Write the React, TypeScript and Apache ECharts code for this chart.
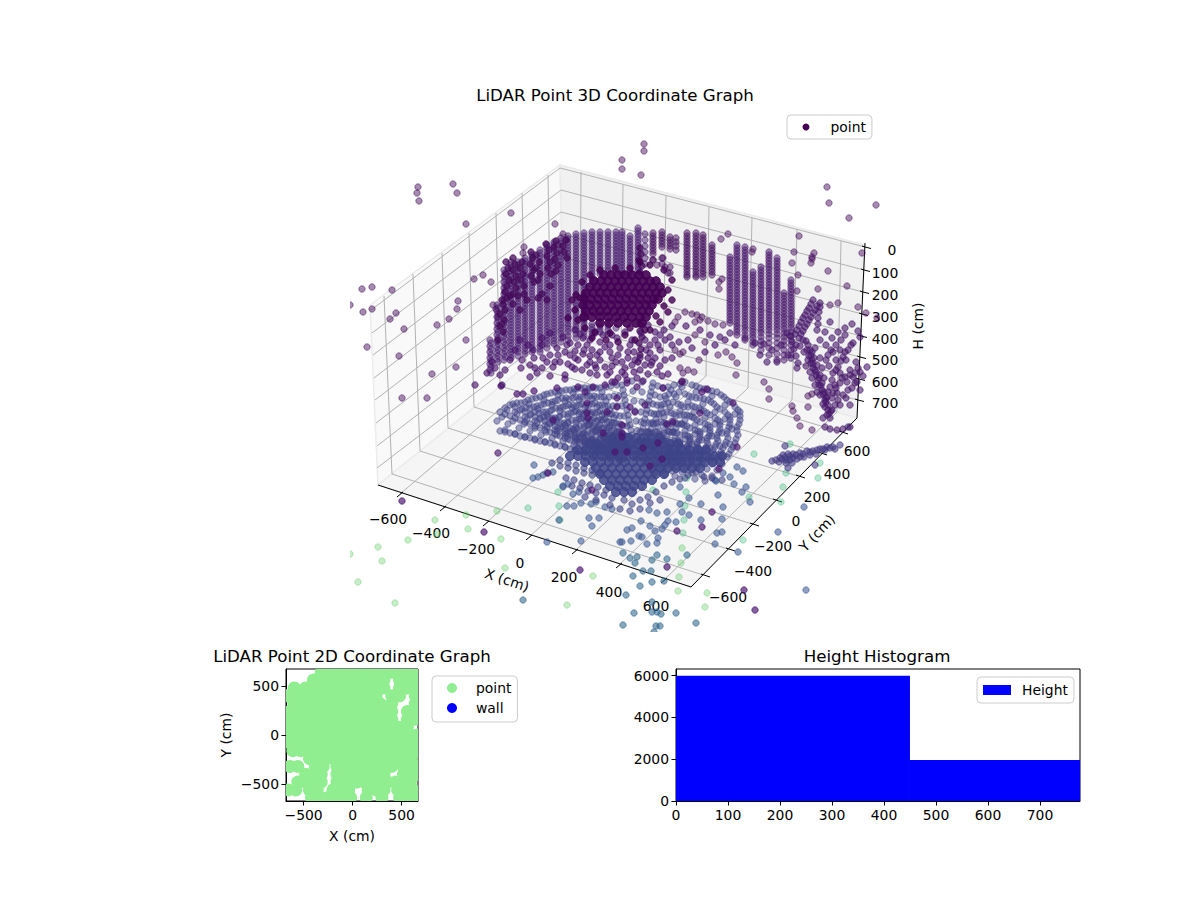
import { useEffect, useRef } from "react";
import * as echarts from "echarts";

const FONT = "DejaVu Sans";

// ---- 3D frame, in view-plane coordinates ----
const paneLeft = [[560, 165], [564, 335], [378, 485], [370, 305]];
const paneRight = [[560, 165], [865, 245], [857, 418], [564, 335]];
const paneFloor = [[564, 335], [857, 418], [691, 587], [378, 485]];
const backZ = [[560, 168], [561, 190], [561, 212], [562, 234], [562, 257], [563, 279], [563, 302], [564, 325]];
const leftZ = [[371, 310], [372, 333], [373, 355], [374, 378], [375, 400], [376, 423], [377, 446], [377, 468]];
const rightZ = [[865, 247], [864, 270], [863, 292], [862, 314], [861, 336], [860, 357], [859, 379], [858, 400]];
const leftTops = [[384, 296], [413, 274], [442, 253], [469, 233], [496, 213], [522, 193], [548, 175]];
const leftBottoms = [[392, 474], [420, 451], [448, 428], [474, 407], [500, 386], [526, 365], [551, 345]];
const rightTops = [[581, 172], [623, 185], [666, 196], [709, 207], [752, 218], [797, 229], [841, 241]];
const rightBottoms = [[580, 341], [621, 352], [663, 364], [706, 376], [748, 388], [792, 400], [837, 412]];
const xTickPoints = [[400, 494], [443, 508], [486, 523], [529, 537], [575, 551], [619, 565], [664, 580]];
const yTickPoints = [[703, 575], [728, 549], [752, 524], [775, 500], [798, 476], [820, 453], [841, 432]];
const xTickLabels = ["−600", "−400", "−200", "0", "200", "400", "600"];
const yTickLabels = ["−600", "−400", "−200", "0", "200", "400", "600"];
const zTickLabels = ["0", "100", "200", "300", "400", "500", "600", "700"];
const xLabelPos = [[388, 519], [431, 533], [476, 549], [520, 563], [564, 577], [609, 592], [656, 606]];
const yLabelPos = [[728, 597], [753, 571], [773, 546], [796, 521], [817, 497], [837, 474], [857, 451]];

// ---- 3D scatter ----
const wallLeftColumns: [number, number[]][] = [
  [490, [340, 346, 352, 358, 364, 370]],
  [497, [305, 311, 317, 323, 329, 335, 341, 347, 353, 359]],
  [504, [270, 276, 282, 288, 294, 300, 306, 312, 318, 324, 330, 336, 342, 348, 354, 360]],
  [511, [262, 268, 274, 280, 286, 292, 298, 304, 310, 316, 322, 328, 334, 340, 346, 352, 358]],
  [518, [262, 268, 274, 280, 286, 292, 298, 304, 310, 316, 322, 328, 334, 340, 346, 352, 356]],
  [525, [258, 264, 270, 276, 282, 288, 294, 300, 306, 312, 318, 324, 330, 336, 342, 348, 354]],
  [532, [255, 261, 267, 273, 279, 285, 291, 297, 303, 309, 315, 321, 327, 333, 339, 345, 352]],
  [540, [250, 256, 262, 268, 274, 280, 286, 292, 298, 304, 310, 316, 322, 328, 334, 340, 346, 352]],
  [547, [245, 251, 257, 263, 269, 275, 281, 287, 293, 299, 305, 311, 317, 323, 329, 335, 341, 348]],
  [554, [242, 248, 254, 260, 266, 272, 278, 284, 290, 296, 302, 308, 314, 320, 326, 332, 338, 344]],
  [561, [238, 244, 250, 256, 262, 268, 274, 280, 286, 292, 298, 304, 310, 316, 322, 328, 334, 342]],
  [568, [236, 242, 248, 254, 260, 266, 272, 278, 284, 290, 296, 302, 308, 314, 320, 326, 332, 340]],
  [576, [234, 240, 246, 252, 258, 264, 270, 276, 282, 288, 294, 300, 306, 312, 318, 324, 330, 338]],
  [584, [233, 239, 245, 251, 257, 263, 269, 275, 281, 287, 293, 299, 305, 311, 317, 323, 329, 336]],
  [592, [232, 238, 244, 250, 256, 262, 268, 274, 280, 324, 330, 336]],
  [600, [232, 238, 244, 250, 256, 262, 268, 274, 326, 332]],
  [608, [232, 238, 244, 250, 256, 262, 268, 326, 334]],
  [616, [232, 238, 244, 250, 256, 262, 268, 328]],
  [622, [232, 238, 244, 250, 256, 262, 268, 274]],
  [630, [236, 242, 248, 254, 260, 266, 272]],
  [638, [228, 234, 240, 246, 252, 258, 264, 270]],
  [645, [234, 240, 246, 252, 258, 264]],
];
const wallLeftColumnsB: [number, number[]][] = [
  [491, [343, 349, 355, 361, 367, 373]],
  [498, [308, 314, 320, 326, 332, 338, 344, 350, 356, 362]],
  [505, [273, 279, 285, 291, 297, 303, 309, 315, 321, 327, 333, 339, 345, 351, 357]],
  [511, [265, 271, 277, 283, 289, 295, 301, 307, 313, 319, 325, 331, 337, 343, 349, 355]],
  [518, [265, 271, 277, 283, 289, 295, 301, 307, 313, 319, 325, 331, 337, 343, 349]],
  [525, [261, 267, 273, 279, 285, 291, 297, 303, 309, 315, 321, 327, 333, 339, 345, 351]],
  [532, [258, 264, 270, 276, 282, 288, 294, 300, 306, 312, 318, 324, 330, 336, 342, 348]],
  [540, [253, 259, 265, 271, 277, 283, 289, 295, 301, 307, 313, 319, 325, 331, 337, 343, 349]],
  [547, [248, 254, 260, 266, 272, 278, 284, 290, 296, 302, 308, 314, 320, 326, 332, 338, 344]],
  [554, [245, 251, 257, 263, 269, 275, 281, 287, 293, 299, 305, 311, 317, 323, 329, 335, 341]],
  [561, [241, 247, 253, 259, 265, 271, 277, 283, 289, 295, 301, 307, 313, 319, 325, 331, 338]],
  [568, [239, 245, 251, 257, 263, 269, 275, 281, 287, 293, 299, 305, 311, 317, 323, 329, 336]],
  [576, [237, 243, 249, 255, 261, 267, 273, 279, 285, 291, 297, 303, 309, 315, 321, 327, 334]],
  [584, [236, 242, 248, 254, 260, 266, 272, 278, 284, 290, 296, 302, 308, 314, 320, 326, 332]],
  [592, [235, 241, 247, 253, 259, 265, 271, 277, 327, 333]],
  [600, [235, 241, 247, 253, 259, 265, 271, 329]],
  [608, [235, 241, 247, 253, 259, 265, 271, 330]],
  [616, [235, 241, 247, 253, 259, 265, 271]],
  [622, [235, 241, 247, 253, 259, 265, 271]],
  [630, [239, 245, 251, 257, 263, 269]],
  [638, [231, 237, 243, 249, 255, 261, 267]],
];
const wallTopBand = [
  506, 262, 508, 268, 506, 274, 509, 280, 507, 286, 505, 292, 507, 298, 503, 304, 505, 310, 513, 258, 515, 264, 513, 270, 516, 276, 514, 282, 516, 288, 513, 294,
  522, 262, 520, 268, 523, 274, 521, 280, 524, 286, 531, 252, 533, 258, 530, 264, 534, 270, 531, 276, 534, 282, 536, 255, 539, 262, 536, 268, 540, 274, 538, 280,
  546, 244, 549, 250, 547, 256, 550, 262, 548, 268, 551, 274, 556, 241, 554, 247, 557, 253, 555, 259, 558, 265, 556, 271, 566, 240, 563, 246, 564, 252, 567, 258,
  504, 320, 500, 326, 503, 332, 498, 340, 502, 300, 500, 314, 510, 296, 513, 304, 518, 296, 524, 294, 527, 300, 542, 294, 547, 300, 550, 286, 538, 298, 520, 310,
  640, 248, 641, 254, 639, 260, 642, 266, 640, 272, 641, 325, 640, 331, 642, 337, 639, 343, 641, 349, 640, 355, 638, 362,
];
const wallUpperColumns: [number, number[]][] = [
  [653, [233, 236, 239, 242, 245, 248, 251, 254, 260]],
  [662, [232, 235, 238, 241, 244, 247, 258, 264]],
  [670, [237, 240, 243, 246, 249, 267, 273]],
  [676, [238, 242, 246, 250]],
  [687, [233, 236, 239, 242, 245, 248, 251, 254, 257, 260, 263, 266, 269, 272, 275, 277]],
  [696, [233, 236, 239, 242, 245, 248, 251, 254, 257, 260, 263, 266, 269, 272, 275, 277]],
  [703, [235, 238, 241, 244, 247, 250, 253, 256, 259, 262, 265, 268, 271, 274, 277]],
  [712, [245, 248, 251, 254, 257, 260, 263, 266, 269, 272, 275]],
];
const wallRightColumns: [number, number[]][] = [
  [730, [257, 260, 263, 266, 269, 272, 275, 278, 281, 284, 287, 290, 293, 296, 299, 302, 305, 308, 311, 314, 317, 320, 323]],
  [737, [245, 248, 251, 254, 257, 260, 263, 266, 269, 272, 275, 278, 281, 284, 287, 290, 293, 296, 299, 302, 305, 308, 311, 314, 317, 320, 323, 326, 329, 332, 335]],
  [745, [247, 250, 253, 256, 259, 262, 265, 268, 271, 274, 277, 280, 283, 286, 289, 292, 295, 298, 301, 304, 307, 310, 313, 316, 319, 322, 325, 328, 331, 335, 340]],
  [753, [272, 275, 278, 281, 284, 287, 290, 293, 296, 299, 302, 305, 308, 311, 314, 317, 320, 323, 326, 329, 332, 335, 338, 342, 345]],
  [761, [267, 270, 273, 276, 279, 282, 285, 288, 291, 294, 297, 300, 303, 306, 309, 312, 315, 318, 321, 324, 327, 330, 333, 337, 341, 345, 350]],
  [769, [252, 255, 258, 261, 264, 267, 270, 273, 276, 279, 282, 285, 288, 291, 294, 297, 300, 303, 306, 309, 312, 315, 318, 321, 324, 327, 330, 334, 338, 343, 348, 355]],
  [777, [258, 261, 264, 267, 270, 273, 276, 279, 282, 285, 288, 291, 294, 297, 300, 303, 306, 309, 312, 315, 318, 321, 324, 327, 330, 334, 338, 343, 348, 354, 360]],
  [784, [293, 296, 299, 302, 305, 308, 311, 314, 317, 320, 323, 326, 329, 333, 337, 341, 345, 350, 355, 360]],
  [791, [280, 283, 286, 289, 292, 295, 298, 301, 304, 307, 310, 313, 316, 319, 322, 325, 328, 332, 336, 340, 345, 350, 355, 358]],
];
const wallRightStrands = [
  820, 303, 815, 310, 811, 317, 807, 324, 803, 331, 799, 338, 813, 300, 809, 308, 805, 315, 801, 322, 797, 330, 820, 307, 818, 318, 817, 330,
  817, 306, 813, 313, 809, 320, 805, 327, 801, 334, 811, 304, 807, 311, 803, 318, 799, 326, 795, 334, 819, 312, 818, 324,
  797, 368, 798, 363, 796, 356, 794, 349, 792, 342, 790, 336, 787, 333, 860, 337, 853, 343, 848, 350, 843, 357, 838, 367, 833, 373, 830, 387,
  827, 397, 825, 407, 823, 418, 810, 350, 812, 360, 815, 370, 818, 380, 822, 390, 825, 400, 828, 410, 830, 418, 807, 350, 809, 356, 811, 363,
  813, 368, 816, 375, 819, 385, 820, 395, 823, 404, 840, 373, 847, 382, 853, 377, 860, 372, 867, 367, 837, 393, 832, 398, 860, 390, 850, 405,
  840, 405, 833, 352, 828, 355, 820, 358, 850, 427, 843, 429, 837, 430, 830, 429, 825, 427, 835, 385, 842, 378, 850, 370, 856, 362, 846, 360,
  840, 350, 832, 338, 838, 332, 845, 328, 852, 324, 858, 331, 826, 345, 820, 340, 815, 348, 830, 322, 825, 332, 835, 405, 846, 398, 855, 383,
  811, 355, 813, 364, 816, 372, 819, 378, 821, 386, 823, 394, 826, 402, 829, 414, 808, 345, 806, 341, 812, 352, 814, 358, 817, 365, 820, 375,
  822, 383, 824, 392, 826, 398, 828, 405, 831, 411, 833, 393, 836, 388, 840, 383, 845, 377, 850, 375, 855, 373, 858, 368, 851, 345, 845, 352,
  841, 361, 836, 370, 832, 380, 828, 392, 845, 335, 841, 340, 836, 345, 831, 350, 826, 360, 822, 368, 803, 340, 800, 346, 804, 352, 808, 360,
  806, 366, 810, 372, 812, 378, 815, 385, 817, 392, 832, 410, 827, 415, 838, 400, 843, 395, 848, 390, 852, 388, 857, 382, 863, 376, 836, 360,
  829, 366, 824, 378, 720, 337, 730, 333, 745, 338, 755, 343, 760, 355, 767, 362, 777, 362, 788, 355, 764, 344, 772, 350, 781, 345, 796, 345,
];
const wallScatter = [
  367, 347, 399, 356, 432, 374, 456, 367, 466, 340, 402, 398, 427, 398,
  418, 187, 417, 193, 419, 201, 453, 184, 457, 193, 511, 213, 466, 224, 555, 224, 563, 234, 362, 289, 372, 287, 392, 290, 363, 312, 372, 309,
  396, 313, 390, 319, 404, 329, 437, 325, 449, 319, 457, 309, 458, 301, 474, 279, 483, 275, 491, 282, 493, 305, 496, 309, 498, 317, 502, 324,
  524, 247, 523, 253, 558, 245, 566, 240, 350, 305, 644, 144, 644, 151, 622, 160, 622, 169, 641, 175, 827, 187, 829, 203, 876, 205, 849, 218,
  728, 234, 721, 239, 799, 236, 794, 252, 814, 253, 812, 257, 812, 259, 811, 263, 792, 263, 753, 249, 752, 252, 828, 271, 847, 286, 798, 275,
  818, 289, 797, 291, 862, 253, 838, 303, 830, 305, 858, 307, 866, 313, 877, 318, 719, 282, 719, 289, 722, 279, 685, 312, 678, 317, 675, 322,
  692, 314, 697, 315, 702, 317, 695, 322, 700, 320, 708, 321, 715, 324, 723, 325, 663, 258, 665, 267, 668, 273, 653, 260, 657, 265,
  695, 335, 705, 342, 718, 355, 726, 352, 732, 357, 737, 363, 736, 375, 699, 360, 683, 352, 680, 354, 675, 350, 680, 368, 688, 370, 694, 372,
  683, 373, 682, 381, 764, 382, 769, 389, 769, 399, 792, 406, 793, 411, 797, 418, 800, 426, 812, 430, 808, 407, 812, 394, 808, 396,
];
const wallMidBand = [
  520, 340, 542, 338, 550, 333, 563, 337, 570, 343, 583, 338, 595, 333, 603, 335, 617, 338, 587, 345, 605, 347, 597, 355, 583, 354, 575, 351,
  567, 345, 557, 348, 550, 355, 543, 358, 534, 358, 530, 365, 555, 362, 560, 362, 553, 367, 542, 368, 521, 368, 537, 373, 550, 376, 530, 377,
  565, 375, 565, 379, 572, 367, 575, 369, 587, 365, 595, 365, 605, 367, 607, 375, 612, 382, 618, 378, 597, 375, 590, 373, 502, 385, 495, 368,
  487, 373, 492, 362, 475, 385, 498, 453, 668, 374, 662, 376, 657, 372, 651, 365, 658, 345, 650, 353, 648, 358, 670, 337, 679, 342,
  632, 340, 641, 333, 628, 352, 640, 358, 622, 362, 634, 372, 612, 358, 655, 332, 664, 330, 648, 325, 672, 326, 686, 326, 660, 350, 643, 381, 625, 375,
  575, 330, 580, 334, 590, 340, 600, 342, 610, 345, 620, 348, 630, 345, 645, 340, 650, 345, 612, 335, 625, 332, 660, 335, 655, 340, 665, 340,
  570, 355, 578, 360, 590, 356, 600, 360, 612, 366, 625, 368, 635, 360, 645, 365, 655, 358, 665, 360, 672, 345, 672, 358, 688, 340, 692, 348,
  542, 345, 533, 350, 528, 345, 515, 350, 510, 360, 505, 370, 500, 375, 522, 360, 700, 330, 710, 335, 715, 345, 705, 352, 725, 340, 735, 345,
  627, 380, 637, 378, 622, 372, 578, 345, 584, 350, 592, 350, 600, 352, 610, 352, 618, 355, 628, 358, 634, 352, 646, 350, 652, 362, 660, 366,
  568, 364, 582, 370, 596, 368, 610, 372, 616, 362, 632, 365, 640, 370, 648, 374, 535, 368, 547, 362, 558, 355, 565, 352, 575, 358, 590, 362,
];
const fanOverlay = [
  578, 387, 585, 392, 593, 387, 605, 385, 615, 382, 627, 383, 637, 387, 663, 388, 682, 382, 617, 398, 587, 403, 617, 407, 630, 407, 645, 405, 607, 412,
  635, 412, 587, 413, 588, 418, 553, 420, 622, 425, 667, 424, 673, 422, 700, 413, 733, 403, 707, 389, 702, 392, 603, 433, 622, 433, 622, 437, 658, 443,
  643, 448, 615, 452, 627, 452, 662, 459, 650, 466, 719, 469, 737, 447, 548, 473, 592, 490, 501, 386, 517, 394, 523, 394, 534, 391, 557, 388,
  402, 501, 484, 532, 580, 570, 712, 512, 702, 527, 677, 531, 667, 567, 744, 590, 755, 610,
];
const wallBlobRows: [number, number[]][] = [
  [275, [604, 611, 618, 625, 632, 639, 646]],
  [281, [594, 601, 608, 615, 622, 629, 636, 643, 650, 656]],
  [287, [590, 597, 604, 611, 618, 625, 632, 639, 646, 653, 660]],
  [293, [586, 593, 600, 607, 614, 621, 628, 635, 642, 649, 656, 662]],
  [299, [584, 591, 598, 605, 612, 619, 626, 633, 640, 647, 654, 658]],
  [305, [583, 590, 597, 604, 611, 618, 625, 632, 639, 646, 652]],
  [311, [586, 593, 600, 607, 614, 621, 628, 635, 642, 649]],
  [317, [584, 592, 600, 608, 616, 624, 632, 640, 646]],
  [323, [600, 609, 618, 627, 636, 642]],
];
const blobEdge = [
  575, 310, 572, 300, 578, 320, 585, 328, 595, 332, 610, 333, 625, 335, 635, 340, 650, 330, 660, 322, 668, 312, 672, 300, 668, 290, 672, 280, 664, 270, 650, 265,
  640, 262, 630, 268, 615, 268, 600, 270, 590, 275, 582, 282, 576, 295, 580, 298, 568, 318, 592, 338, 606, 340, 618, 342, 630, 328, 645, 330, 656, 316, 664, 306,
];
const floorRays: number[][] = [
  [500, 431, 510, 433, 520, 436, 530, 438, 540, 441, 550, 443, 560, 446, 570, 449, 580, 451, 590, 454, 600, 456, 610, 459, 620, 461],
  [497, 421, 508, 424, 519, 428, 530, 431, 541, 435, 552, 438, 563, 441, 574, 445, 585, 448, 596, 451, 607, 455, 618, 458],
  [500, 412, 510, 416, 520, 420, 530, 424, 540, 428, 550, 432, 560, 436, 570, 440, 580, 444, 590, 447, 600, 451, 610, 455, 620, 459],
  [505, 408, 515, 412, 525, 417, 535, 421, 545, 425, 555, 430, 565, 434, 575, 438, 585, 442, 595, 446, 605, 451, 615, 455],
  [510, 405, 520, 410, 530, 415, 540, 419, 550, 424, 560, 429, 570, 434, 580, 439, 590, 443, 600, 448, 610, 453, 620, 458],
  [517, 403, 526, 408, 535, 412, 544, 417, 553, 422, 562, 427, 571, 432, 580, 437, 589, 441, 598, 446, 607, 451, 616, 456],
  [525, 402, 534, 407, 543, 412, 552, 418, 561, 423, 570, 428, 579, 433, 588, 438, 597, 443, 606, 448, 615, 454, 624, 459],
  [532, 399, 541, 405, 550, 411, 559, 417, 568, 423, 577, 429, 586, 435, 595, 441, 604, 446, 613, 452],
  [540, 397, 548, 403, 556, 408, 564, 414, 572, 420, 580, 426, 588, 431, 596, 437, 604, 443, 612, 449, 620, 454],
  [547, 394, 555, 401, 563, 407, 571, 413, 579, 419, 587, 425, 595, 431, 603, 437, 611, 443, 619, 449],
  [555, 392, 562, 398, 569, 405, 576, 411, 583, 418, 590, 424, 597, 430, 604, 437, 611, 443, 618, 450, 625, 456],
  [562, 391, 569, 399, 576, 406, 583, 414, 590, 421, 597, 428, 604, 435, 611, 442, 618, 450],
  [570, 390, 576, 397, 582, 404, 588, 411, 594, 418, 600, 425, 606, 432, 612, 439, 618, 445, 624, 452],
  [577, 389, 583, 397, 589, 405, 595, 413, 601, 420, 607, 428, 613, 436, 619, 444, 625, 452],
  [585, 388, 590, 396, 595, 403, 600, 411, 605, 419, 610, 426, 615, 434, 620, 442, 625, 450],
  [592, 388, 597, 397, 602, 405, 607, 414, 612, 423, 617, 432, 622, 440, 627, 449],
  [600, 388, 604, 397, 608, 406, 612, 414, 616, 423, 620, 432, 624, 441, 628, 450],
  [611, 386, 614, 396, 617, 406, 620, 416, 623, 426, 626, 436, 629, 446],
  [622, 385, 624, 395, 626, 405, 628, 415, 630, 425, 632, 435, 634, 445, 635, 455],
  [632, 381, 633, 391, 634, 401, 635, 411, 636, 421, 637, 431, 637, 441, 637, 451],
  [653, 383, 651, 392, 649, 401, 647, 410, 645, 419, 643, 428, 641, 437, 639, 446, 637, 455],
  [663, 388, 660, 397, 657, 405, 654, 414, 651, 423, 648, 432, 645, 441, 642, 450, 639, 458],
  [674, 385, 669, 394, 664, 404, 659, 414, 654, 424, 649, 434, 644, 444],
  [685, 382, 679, 392, 673, 402, 667, 412, 661, 422, 655, 432, 649, 442, 643, 452],
  [692, 385, 685, 394, 678, 404, 671, 413, 664, 423, 657, 432, 650, 442, 643, 452],
  [700, 388, 692, 397, 684, 407, 676, 416, 668, 426, 660, 435, 652, 445, 644, 454],
  [708, 390, 700, 398, 692, 406, 684, 415, 676, 423, 668, 431, 660, 440, 652, 448],
  [717, 392, 708, 400, 699, 408, 690, 416, 681, 424, 672, 432, 663, 440, 654, 448, 645, 456],
  [724, 397, 714, 404, 704, 411, 694, 418, 684, 425, 674, 432, 664, 440, 654, 447],
  [730, 402, 720, 409, 710, 415, 700, 422, 690, 428, 680, 435, 670, 442, 660, 448, 650, 455],
  [735, 407, 725, 412, 715, 418, 705, 424, 695, 430, 685, 435, 675, 441, 665, 447, 655, 452],
  [740, 412, 730, 417, 720, 422, 710, 427, 700, 432, 690, 437, 680, 442, 670, 447, 660, 452, 650, 457],
  [740, 420, 730, 424, 720, 429, 710, 433, 700, 437, 690, 441, 680, 445, 670, 450, 660, 454],
  [737, 427, 727, 431, 717, 435, 707, 438, 697, 442, 687, 446, 677, 450, 667, 454, 657, 457, 647, 460],
  [738, 435, 728, 438, 718, 441, 708, 444, 698, 447, 688, 449, 678, 452, 668, 455, 658, 458],
  [735, 443, 725, 445, 715, 447, 705, 450, 695, 452, 685, 454, 675, 456, 665, 458, 655, 460, 645, 462],
  [731, 450, 721, 452, 711, 453, 701, 455, 691, 456, 681, 458, 671, 459, 661, 460],
  [727, 457, 717, 458, 707, 459, 697, 460, 687, 461, 677, 462, 667, 462, 657, 463],
  [717, 470, 707, 469, 697, 468, 687, 468, 677, 467, 667, 466, 657, 466],
];
const floorRaysB: number[][] = [
  [505, 430, 515, 434, 525, 437, 535, 440, 545, 442, 555, 445, 565, 447, 575, 450, 585, 452, 595, 455, 605, 457],
  [502, 417, 513, 421, 524, 424, 535, 428, 546, 432, 557, 435, 568, 439, 579, 442, 590, 446, 601, 449, 612, 453],
  [507, 410, 517, 414, 527, 419, 537, 423, 547, 427, 557, 431, 567, 436, 577, 440, 587, 444, 597, 448, 607, 453],
  [513, 404, 522, 409, 531, 414, 540, 418, 549, 423, 558, 428, 567, 433, 576, 438, 585, 442, 594, 447, 603, 451],
  [521, 403, 530, 408, 539, 413, 548, 417, 557, 422, 566, 428, 575, 433, 584, 438, 593, 443, 602, 447, 611, 452],
  [528, 400, 537, 406, 546, 412, 555, 418, 564, 423, 573, 429, 582, 434, 591, 440, 600, 445, 609, 451],
  [536, 398, 544, 404, 552, 410, 560, 416, 568, 422, 576, 427, 584, 433, 592, 439, 600, 445, 608, 450],
  [544, 395, 552, 402, 560, 408, 568, 414, 576, 420, 584, 426, 592, 432, 600, 438, 608, 444, 616, 450],
  [551, 393, 558, 400, 566, 406, 574, 412, 581, 419, 589, 425, 596, 431, 604, 438, 611, 444, 619, 451],
  [559, 391, 566, 398, 573, 405, 580, 412, 587, 419, 594, 426, 601, 433, 608, 440, 615, 447],
  [566, 390, 573, 398, 579, 405, 586, 412, 592, 420, 599, 427, 605, 434, 612, 441, 618, 448],
  [574, 389, 580, 397, 586, 405, 592, 412, 598, 420, 604, 428, 610, 435, 616, 443, 622, 451],
  [581, 388, 587, 396, 592, 404, 598, 412, 603, 420, 609, 428, 614, 436, 620, 444],
  [589, 388, 594, 396, 599, 405, 604, 413, 609, 422, 614, 430, 619, 439, 624, 448],
  [596, 388, 601, 397, 605, 406, 610, 414, 614, 423, 619, 432, 623, 441, 628, 450],
  [606, 387, 609, 397, 613, 406, 616, 415, 620, 424, 623, 434, 627, 444, 630, 452],
  [617, 385, 619, 396, 622, 406, 624, 416, 627, 426, 629, 436, 632, 446],
  [642, 382, 642, 392, 642, 402, 641, 412, 641, 422, 640, 432, 639, 442, 639, 452],
  [658, 386, 655, 395, 653, 404, 651, 413, 648, 423, 646, 432, 644, 442],
  [668, 387, 665, 396, 661, 405, 657, 414, 653, 423, 649, 432, 645, 442],
  [680, 384, 674, 394, 668, 403, 663, 413, 657, 423, 652, 433, 647, 442],
  [696, 386, 689, 396, 681, 405, 674, 414, 666, 424, 659, 434, 651, 444],
  [704, 389, 696, 398, 688, 407, 680, 415, 672, 424, 664, 433, 656, 442],
  [712, 391, 704, 399, 695, 407, 687, 415, 678, 424, 670, 432, 661, 440, 652, 449],
  [721, 395, 711, 402, 701, 410, 692, 417, 682, 424, 673, 432, 663, 440, 654, 447],
  [727, 400, 717, 407, 707, 413, 697, 420, 687, 426, 677, 433, 667, 441, 657, 448],
  [738, 410, 728, 415, 718, 420, 708, 425, 698, 431, 688, 436, 678, 441, 668, 447],
  [740, 416, 730, 420, 720, 425, 710, 430, 700, 434, 690, 439, 680, 444, 670, 448],
  [739, 424, 729, 427, 719, 432, 709, 436, 699, 440, 689, 444, 679, 447, 669, 452],
  [737, 431, 727, 434, 717, 438, 707, 441, 697, 444, 687, 447, 677, 451, 667, 454],
  [736, 439, 726, 442, 716, 444, 706, 447, 696, 449, 686, 452, 676, 454, 666, 457],
  [733, 447, 723, 448, 713, 450, 703, 452, 693, 454, 683, 456, 673, 458, 663, 459],
  [729, 454, 719, 455, 709, 456, 699, 458, 689, 459, 679, 460, 669, 461],
  [722, 464, 712, 464, 702, 464, 692, 464, 682, 464, 672, 464, 662, 464],
  [712, 476, 702, 475, 692, 473, 682, 472, 672, 471, 662, 470, 652, 470],
  [705, 481, 695, 479, 685, 478, 675, 476, 665, 475, 655, 473],
];
const floorRaysC: number[][] = [
  [505, 432, 515, 434, 525, 437, 535, 439, 545, 442, 555, 444, 565, 447, 575, 450, 585, 452, 595, 455],
  [505, 414, 515, 418, 525, 422, 535, 426, 545, 430, 555, 434, 565, 438, 575, 442, 585, 445, 595, 449],
  [515, 407, 525, 412, 535, 417, 545, 421, 555, 426, 565, 431, 575, 436, 585, 441, 595, 445],
  [529, 404, 538, 409, 547, 415, 556, 420, 565, 425, 574, 430, 583, 435, 592, 440, 601, 445],
  [544, 400, 552, 405, 560, 411, 568, 417, 576, 423, 584, 428, 592, 434, 600, 440, 608, 446],
  [558, 395, 565, 401, 572, 408, 579, 414, 586, 421, 593, 427, 600, 433, 607, 440, 614, 446],
  [573, 393, 579, 400, 585, 407, 591, 414, 597, 421, 603, 428, 609, 435, 615, 442],
  [587, 392, 592, 399, 597, 407, 602, 415, 607, 422, 612, 430, 617, 438, 622, 446],
  [602, 392, 606, 401, 610, 410, 614, 418, 618, 427, 622, 436, 626, 445],
  [623, 390, 625, 400, 627, 410, 629, 420, 631, 430, 633, 440, 634, 450],
  [652, 387, 650, 396, 648, 405, 646, 414, 644, 423, 642, 432, 640, 441],
  [671, 390, 666, 399, 661, 409, 656, 419, 651, 429, 646, 439],
  [682, 387, 676, 397, 670, 407, 664, 417, 658, 427, 652, 437, 646, 447],
  [696, 392, 688, 402, 680, 411, 672, 421, 664, 430, 656, 440, 648, 449],
  [712, 396, 703, 404, 694, 412, 685, 420, 676, 428, 667, 436, 658, 444],
  [725, 405, 715, 412, 705, 418, 695, 425, 685, 431, 675, 438, 665, 445],
  [735, 414, 725, 419, 715, 424, 705, 429, 695, 434, 685, 439, 675, 444, 665, 449],
  [732, 429, 722, 433, 712, 436, 702, 440, 692, 444, 682, 448, 672, 452],
  [730, 444, 720, 446, 710, 448, 700, 451, 690, 453, 680, 455, 670, 457],
  [722, 457, 712, 458, 702, 459, 692, 460, 682, 461, 672, 462],
];
const floorCoreRows: [number, number[]][] = [
  [438, [612, 620, 628, 636, 644, 652, 660]],
  [444, [590, 598, 606, 614, 622, 630, 638, 646, 654, 662, 670, 678]],
  [450, [578, 586, 594, 602, 610, 618, 626, 634, 642, 650, 658, 666, 674, 682, 690, 698, 706]],
  [456, [570, 578, 586, 594, 602, 610, 618, 626, 634, 642, 650, 658, 666, 674, 682, 690, 698, 706, 714, 722]],
  [462, [585, 593, 601, 609, 617, 625, 633, 641, 649, 657, 665, 673, 681, 689, 697, 705, 713, 720]],
  [468, [596, 604, 612, 620, 628, 636, 644, 652, 660, 668, 676, 684, 692, 700]],
  [474, [600, 608, 616, 624, 632, 640, 648, 656, 664]],
  [480, [604, 612, 620, 628, 636, 644, 652]],
  [486, [610, 618, 626, 634, 642]],
  [492, [616, 624, 632]],
];
const floorLowerFan = [
  552, 463, 560, 466, 568, 468, 576, 471, 584, 473, 592, 475, 560, 460, 568, 463, 576, 465, 584, 468, 592, 470, 600, 473, 566, 478, 574, 480, 582, 483,
  590, 485, 598, 487, 606, 490, 572, 486, 580, 488, 588, 491, 596, 493, 604, 495, 612, 498, 624, 500, 632, 504, 640, 500, 648, 497, 656, 492, 664, 486,
  672, 482, 680, 479, 688, 475, 696, 472, 704, 477, 712, 478, 722, 480, 610, 505, 620, 509, 630, 511, 640, 509, 650, 503, 660, 500, 585, 497, 596, 500,
];
const floorStrand = [
  840, 445, 833, 447, 827, 447, 820, 449, 813, 451, 807, 451, 800, 453, 793, 454, 788, 454, 783, 455, 780, 458, 772, 461, 793, 458, 800, 457,
  792, 463, 788, 468, 815, 465, 785, 446, 835, 449, 825, 450, 816, 454, 810, 455, 804, 457, 797, 459, 786, 460, 779, 462, 848, 427,
  830, 448, 823, 449, 817, 450, 810, 452, 803, 454, 796, 455, 790, 456, 785, 457, 782, 459, 776, 460, 790, 460, 786, 463,
];
const bluePoints = [
  680, 487, 689, 498, 680, 504, 667, 512, 657, 513, 649, 510, 662, 529, 655, 531, 650, 526, 641, 521, 632, 528, 627, 530, 639, 536, 642, 537,
  647, 544, 657, 543, 658, 538, 622, 542, 631, 541, 682, 512, 689, 515, 676, 522, 668, 521, 665, 525, 701, 504, 723, 507, 701, 520, 722, 519,
  722, 532, 717, 533, 715, 544, 718, 495, 742, 492, 750, 502, 734, 484, 746, 487, 716, 481, 778, 532, 804, 507, 738, 552, 806, 590,
  589, 518, 599, 518, 592, 526, 567, 506, 574, 506, 581, 503, 591, 504, 596, 502, 605, 507, 612, 509, 573, 494, 563, 486, 568, 484, 579, 492,
  743, 471, 737, 467, 715, 480, 730, 477, 723, 473, 534, 465, 533, 478, 538, 477, 543, 475, 547, 473, 553, 472, 563, 487, 559, 520, 547, 542, 581, 541, 620, 542,
];
const tealPoints = [
  687, 555, 667, 559, 657, 555, 652, 560, 637, 557, 630, 558, 635, 563, 623, 553, 643, 571, 651, 571, 633, 576, 640, 586, 652, 582, 664, 581,
  626, 595, 634, 613, 652, 602, 652, 612, 657, 612, 661, 614, 660, 626, 656, 626, 654, 632, 623, 625, 676, 613, 696, 623, 523, 600,
];
const greenPoints = [
  754, 454, 790, 444, 820, 463, 818, 478, 786, 473, 783, 487, 788, 460, 687, 478, 686, 492, 653, 490, 749, 497, 685, 506, 684, 520, 683, 533,
  743, 540, 781, 502, 558, 492, 528, 508, 559, 506, 560, 520,
];
const limePoints = [
  682, 548, 681, 563, 679, 577, 678, 591, 707, 593, 705, 607, 497, 511, 466, 515, 435, 520, 437, 534, 468, 529, 501, 539, 408, 540, 378, 547,
  382, 561, 358, 582, 395, 603, 505, 568, 593, 576, 567, 605, 350, 554,
];

// ---- 2D coverage: centres of the points, row by row (Y → X values) ----
const plan2D: [number, number[]][] = [
  [640, [-320, -240, -160, -80, 0, 80, 160, 240, 320, 400, 480, 560, 640]],
  [560, [-400, -320, -240, -160, -80, 0, 80, 160, 240, 320, 480, 560, 640]],
  [480, [-595, -480, -400, -320, -240, -160, -80, 0, 80, 160, 240, 320, 480, 560, 640]],
  [400, [-673, -560, -480, -400, -320, -240, -160, -80, 0, 80, 160, 240, 400, 480, 640]],
  [320, [-600, -520, -440, -360, -280, -200, -120, -40, 40, 120, 200, 280, 400, 640]],
  [240, [-640, -560, -480, -400, -320, -240, -160, -80, 0, 80, 160, 240, 320, 400, 560, 640]],
  [160, [-640, -560, -480, -400, -320, -240, -160, -80, 0, 80, 160, 240, 320, 400, 560, 640]],
  [80, [-640, -560, -480, -400, -320, -240, -160, -80, 0, 80, 160, 240, 320, 400, 480, 560]],
  [0, [-640, -560, -480, -400, -320, -240, -160, -80, 0, 80, 160, 240, 320, 400, 480, 560, 660]],
  [-80, [-640, -560, -480, -400, -320, -240, -160, -80, 0, 80, 160, 240, 320, 400, 480, 560, 640]],
  [-160, [-610, -530, -450, -370, -290, -210, -130, -50, 30, 110, 190, 270, 350, 430, 510, 590, 650]],
  [-240, [-440, -360, -280, -200, -120, -40, 40, 120, 200, 280, 360, 440, 520, 600]],
  [-320, [-640, -560, -380, -300, -160, -80, 0, 80, 160, 240, 320, 400, 520, 600, 660]],
  [-400, [-480, -400, -320, -160, -80, 0, 80, 160, 240, 320, 520, 600, 660]],
  [-480, [-560, -480, -400, -320, -160, -120, -40, 40, 120, 200, 280, 360, 440, 520, 590]],
  [-560, [-660, -580, -440, -360, -200, -120, -40, 160, 240, 320, 460, 540, 620]],
  [-640, [-420, -340, -260, -180, -100, -20, 140, 300, 480, 560, 650]],
];
const wallPoints2D: number[][] = [];

// ---- Histogram ----
const histStarts = [0, 450];
const histEnds = [450, 778];
const histCounts = [6000, 1960];
const histXTicks = [0, 100, 200, 300, 400, 500, 600, 700];
const histYTicks = [0, 2000, 4000, 6000];
const xyTicks2D = [-500, 0, 500];

const pairs = (f: number[]) => {
  const out: number[][] = [];
  for (let i = 0; i + 1 < f.length; i += 2) out.push([f[i], f[i + 1]]);
  return out;
};
const colPoints = (c: [number, number[]][]) => c.flatMap(([x, ys]) => ys.map((y) => [x, y]));
const rowPoints = (r: [number, number[]][]) => r.flatMap(([y, xs]) => xs.map((x) => [x, y]));

const seg = (a: number[], b: number[], stroke: string, lineWidth: number, z = 1) => ({
  type: "line",
  z,
  silent: true,
  shape: { x1: a[0], y1: a[1], x2: b[0], y2: b[1] },
  style: { stroke, lineWidth },
});
const label3D = (text: string, x: number, y: number, rotation = 0) => ({
  type: "text",
  z: 3,
  silent: true,
  x,
  y,
  rotation,
  style: { text, fill: "#000", font: `13.9px '${FONT}'`, align: "center", verticalAlign: "middle" },
});
const pane = (points: number[][], fill: string) => ({
  type: "polygon",
  z: 0,
  silent: true,
  shape: { points },
  style: { fill, stroke: "#ebebeb", lineWidth: 1.5 },
});

function frameElements() {
  const grid = "#b2b2b2";
  const els: any[] = [pane(paneLeft, "#f9f9f9"), pane(paneRight, "#f1f1f1"), pane(paneFloor, "#f5f5f5")];
  backZ.forEach((p, i) => {
    els.push(seg(p, leftZ[i], grid, 1), seg(p, rightZ[i], grid, 1));
    els.push(seg(rightZ[i], [rightZ[i][0] + 6, rightZ[i][1] + 1.5], "#000", 1, 2));
    els.push(seg(rightZ[i], [rightZ[i][0] - 3, rightZ[i][1] - 1], "#000", 1, 2));
    els.push(label3D(zTickLabels[i], zTickLabels[i].length === 1 ? 892 : 885, rightZ[i][1] + 3));
  });
  leftTops.forEach((p, i) => {
    els.push(seg(p, leftBottoms[i], grid, 1), seg(rightTops[i], rightBottoms[i], grid, 1));
    els.push(seg(rightBottoms[i], xTickPoints[i], grid, 1), seg(leftBottoms[i], yTickPoints[i], grid, 1));
    const xp = xTickPoints[i];
    const yp = yTickPoints[i];
    els.push(seg([xp[0] - 3, xp[1] + 3], [xp[0] + 3, xp[1] - 2], "#000", 1, 2));
    els.push(seg([yp[0] - 2, yp[1] - 1], [yp[0] + 7, yp[1] + 2], "#000", 1, 2));
    els.push(label3D(xTickLabels[i], xLabelPos[i][0], xLabelPos[i][1]));
    els.push(label3D(yTickLabels[i], yLabelPos[i][0], yLabelPos[i][1]));
  });
  els.push(seg(paneFloor[3], paneFloor[2], "#000", 1, 2), seg(paneFloor[2], paneFloor[1], "#000", 1, 2), seg([865, 243], paneRight[2], "#000", 1, 2));
  els.push(label3D("X (cm)", 507, 580, -0.32), label3D("Y (cm)", 817, 533, 0.82), label3D("H (cm)", 918, 326, Math.PI / 2));
  return els;
}

const point3D = (data: number[][], color: string, opacity: number, r = 3.2, z = 3) => {
  const fill = echarts.color.modifyAlpha(color, opacity);
  const stroke = echarts.color.modifyAlpha(color, Math.min(1, opacity + 0.05));
  return {
    name: "point",
    type: "custom",
    xAxisIndex: 0,
    yAxisIndex: 0,
    data,
    encode: { x: 0, y: 1 },
    clip: true,
    z,
    silent: true,
    renderItem: (_: any, api: any) => {
      const c = api.coord([api.value(0), api.value(1)]);
      return { type: "circle", shape: { cx: c[0], cy: c[1], r }, style: { fill, stroke, lineWidth: 1 } };
    },
  };
};

const axisBase = {
  axisLine: { onZero: false, lineStyle: { color: "#000", width: 1 } },
  axisTick: { length: 4.5, lineStyle: { color: "#000", width: 1 } },
  splitLine: { show: false },
};

export default function App() {
  const ref = useRef<HTMLDivElement>(null);
  useEffect(() => {
    document.body.style.margin = "0";
    const chart = echarts.init(ref.current!, undefined, { renderer: "svg" });
    const plainFmt = (v: number) => (v < 0 ? "−" + Math.abs(v) : String(v));
    const tickLabel = { color: "#000", fontFamily: FONT, fontSize: 13.9, margin: 7, formatter: plainFmt };
    const titleStyle = { fontFamily: FONT, fontSize: 16.67, fontWeight: "normal", color: "#000" };
    const legendText = { fontFamily: FONT, fontSize: 13.9, color: "#000" };
    chart.setOption({
      animation: false,
      backgroundColor: "#fff",
      textStyle: { fontFamily: FONT },
      title: [
        { text: "LiDAR Point 3D Coordinate Graph", left: 610, top: 82, textAlign: "center", textStyle: titleStyle },
        { text: "LiDAR Point 2D Coordinate Graph", left: 347, top: 643, textAlign: "center", textStyle: titleStyle },
        { text: "Height Histogram", left: 872, top: 643, textAlign: "center", textStyle: titleStyle },
      ],
      legend: [
        {
          left: 787, top: 115, orient: "vertical", padding: [5, 6, 5, 15.5], itemWidth: 7, itemHeight: 7,
          backgroundColor: "#fff", borderColor: "#ccc", borderWidth: 1, borderRadius: 4,
          textStyle: { ...legendText, padding: [0, 0, 0, 16] },
          data: [{ name: "point", icon: "circle", itemStyle: { color: "#440154", opacity: 1 } }],
        },
        {
          left: 432, top: 676, orient: "vertical", padding: [5, 6, 7, 15], itemWidth: 10, itemHeight: 10, itemGap: 6,
          backgroundColor: "#fff", borderColor: "#ccc", borderWidth: 1, borderRadius: 4,
          textStyle: { ...legendText, padding: [0, 0, 0, 14] },
          data: [
            { name: "point", icon: "circle", itemStyle: { color: "#90ee90", opacity: 1 } },
            { name: "wall", icon: "circle", itemStyle: { color: "#0000ff", opacity: 1 } },
          ],
        },
        {
          left: 977, top: 677, orient: "vertical", padding: [6, 6, 6, 6], itemWidth: 28, itemHeight: 10,
          backgroundColor: "#fff", borderColor: "#ccc", borderWidth: 1, borderRadius: 4,
          textStyle: { ...legendText, padding: [0, 0, 0, 6] },
          data: [{ name: "Height", icon: "rect", itemStyle: { color: "#0000ff" } }],
        },
      ],
      grid: [
        { left: 350, top: 105, width: 530, height: 527, show: false },
        { left: 286, top: 669, width: 132, height: 132, show: true, borderColor: "#000", borderWidth: 1, backgroundColor: "#fff" },
        { left: 676, top: 669, width: 404, height: 132, show: true, borderColor: "#000", borderWidth: 1, backgroundColor: "#fff" },
      ],
      xAxis: [
        { gridIndex: 0, type: "value", min: 350, max: 880, show: false },
        {
          gridIndex: 1, type: "value", min: -680, max: 668, ...axisBase,
          name: "X (cm)", nameLocation: "middle", nameGap: 28, nameTextStyle: { fontFamily: FONT, fontSize: 13.9, color: "#000" },
          axisTick: { ...axisBase.axisTick, customValues: xyTicks2D },
          axisLabel: { ...tickLabel, customValues: xyTicks2D },
        },
        {
          gridIndex: 2, type: "value", min: 0, max: 777, ...axisBase,
          axisTick: { ...axisBase.axisTick, customValues: histXTicks },
          axisLabel: { ...tickLabel, customValues: histXTicks },
        },
      ],
      yAxis: [
        { gridIndex: 0, type: "value", min: 105, max: 632, inverse: true, show: false },
        {
          gridIndex: 1, type: "value", min: -673, max: 673, ...axisBase,
          name: "Y (cm)", nameLocation: "middle", nameGap: 53, nameTextStyle: { fontFamily: FONT, fontSize: 13.9, color: "#000" },
          axisTick: { ...axisBase.axisTick, customValues: xyTicks2D },
          axisLabel: { ...tickLabel, customValues: xyTicks2D },
        },
        {
          gridIndex: 2, type: "value", min: 0, max: 6320, ...axisBase,
          axisTick: { ...axisBase.axisTick, customValues: histYTicks },
          axisLabel: { ...tickLabel, customValues: histYTicks },
        },
      ],
      series: [
        point3D(pairs(greenPoints), "#35b779", 0.35),
        point3D(pairs(limePoints), "#5ec962", 0.35),
        point3D(pairs(bluePoints), "#3e5a94", 0.58),
        point3D(pairs(tealPoints), "#31688e", 0.58),
        point3D(pairs(floorLowerFan), "#414487", 0.6),
        point3D(pairs(floorRays.flat()), "#414487", 0.5),
        point3D(pairs(floorRaysB.flat()), "#414487", 0.5),
        point3D(pairs(floorRaysC.flat()), "#414487", 0.5),
        point3D(rowPoints(floorCoreRows), "#3e4488", 0.85, 4.5),
        point3D(pairs(floorStrand), "#443a83", 0.6),
        point3D(pairs(fanOverlay), "#4a1470", 0.68),
        point3D(colPoints(wallLeftColumns), "#481e6f", 0.5),
        point3D(colPoints(wallLeftColumnsB), "#481e6f", 0.5),
        point3D(pairs(wallTopBand), "#440a5a", 0.75),
        point3D(colPoints(wallUpperColumns), "#440f5e", 0.5),
        point3D(colPoints(wallRightColumns), "#47186b", 0.5),
        point3D(pairs(wallRightStrands), "#47186b", 0.6),
        point3D(pairs(wallScatter), "#450c5c", 0.48),
        point3D(pairs(wallMidBand), "#46106a", 0.62),
        point3D(rowPoints(wallBlobRows), "#440154", 0.9, 4.3),
        point3D(pairs(blobEdge), "#440154", 0.8),
        {
          name: "point", type: "custom", xAxisIndex: 1, yAxisIndex: 1, clip: true, silent: true,
          data: plan2D.flatMap(([y, xs]) => xs.map((x) => [x, y])), encode: { x: 0, y: 1 },
          renderItem: (_: any, api: any) => {
            const c = api.coord([api.value(0), api.value(1)]);
            return { type: "circle", shape: { cx: c[0], cy: c[1], r: 6.5 }, style: { fill: "#90ee90" } };
          },
        },
        {
          name: "wall", type: "scatter", xAxisIndex: 1, yAxisIndex: 1, symbolSize: 13, clip: true, silent: true,
          data: wallPoints2D, itemStyle: { color: "#0000ff" },
        },
        {
          name: "Height", type: "custom", xAxisIndex: 2, yAxisIndex: 2, clip: true, silent: true,
          data: histStarts.map((s, i) => [s, histEnds[i], histCounts[i]]),
          encode: { x: [0, 1], y: 2 },
          renderItem: (_: any, api: any) => {
            const a = api.coord([api.value(0), api.value(2)]);
            const b = api.coord([api.value(1), 0]);
            return { type: "rect", shape: { x: a[0], y: a[1], width: b[0] - a[0], height: b[1] - a[1] }, style: { fill: "#0000ff" } };
          },
        },
      ],
      graphic: frameElements(),
    });
    return () => chart.dispose();
  }, []);
  return <div ref={ref} style={{ width: 1200, height: 900, position: "absolute", left: 0, top: 0 }} />;
}
